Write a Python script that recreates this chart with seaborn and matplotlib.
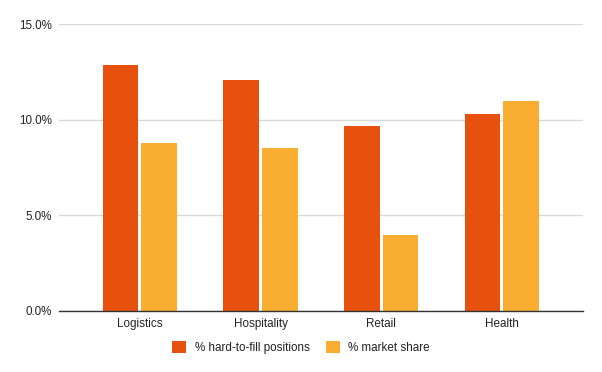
import matplotlib
matplotlib.use("Agg")
import matplotlib.pyplot as plt
import matplotlib.ticker as mticker
import seaborn as sns
import pandas as pd

# data
sectors = ["Logistics", "Hospitality", "Retail", "Health"]
hard_to_fill = [12.85, 12.07, 9.7, 10.28]
market_share = [8.77, 8.5, 3.98, 10.97]
series_names = ["% hard-to-fill positions", "% market share"]
colors = ["#e8500e", "#f9ae31"]

df = pd.DataFrame({
    "sector": sectors * 2,
    "series": [series_names[0]] * 4 + [series_names[1]] * 4,
    "value": [v / 100 for v in hard_to_fill + market_share],
})

sns.set_style("white")
plt.rcParams["font.family"] = ["Liberation Sans", "DejaVu Sans"]

fig = plt.figure(figsize=(6.02, 3.72), dpi=100)
ax = fig.add_axes([0.098, 0.164, 0.870, 0.771])

sns.barplot(data=df, x="sector", y="value", hue="series", palette=colors,
            width=0.64, gap=0.08, linewidth=0, saturation=1, ax=ax, zorder=3)

ax.set_ylim(0, 0.15)
ax.set_xlim(-0.67, 3.67)
ax.yaxis.set_major_locator(mticker.MultipleLocator(0.05))
ax.yaxis.set_major_formatter(mticker.PercentFormatter(1.0, decimals=1))
ax.grid(axis="y", color="#d9d9d9", linewidth=1, zorder=0)
ax.set_axisbelow(True)
for s in ["top", "right", "left"]:
    ax.spines[s].set_visible(False)
ax.spines["bottom"].set_color("#333333")
ax.spines["bottom"].set_linewidth(1)
ax.spines["bottom"].set_zorder(4)
ax.set_xlabel("")
ax.set_ylabel("")
ax.tick_params(axis="both", length=0, labelsize=8.4, colors="#222222")
ax.tick_params(axis="y", pad=5)
ax.tick_params(axis="x", pad=5)

handles, labels = ax.get_legend_handles_labels()
ax.get_legend().remove()
fig.legend(handles, labels, loc="center", bbox_to_anchor=(0.5, 0.067), ncol=2,
           frameon=False, fontsize=8.4, handlelength=1.2, handleheight=1.2,
           handletextpad=0.7, columnspacing=1.4, labelcolor="#222222")

fig.savefig("out.png", dpi=100)
